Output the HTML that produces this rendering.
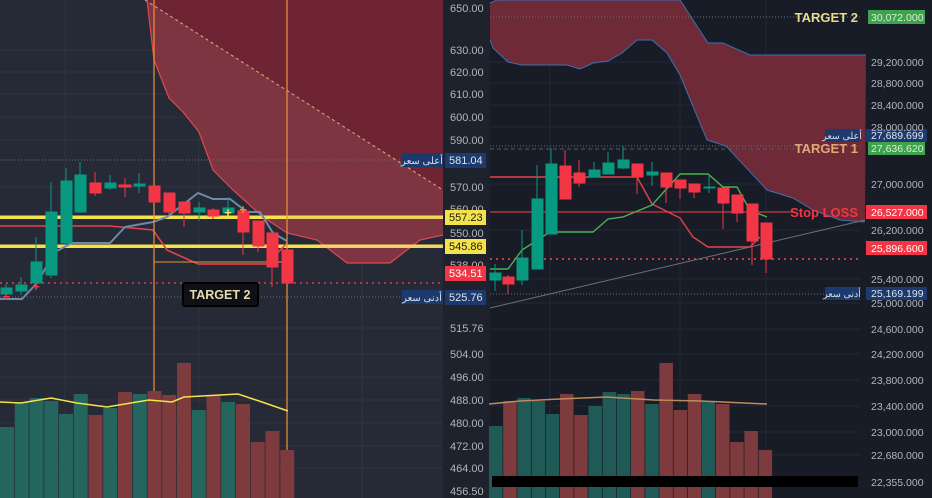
<!DOCTYPE html>
<html><head><meta charset="utf-8"><style>
html,body{margin:0;padding:0;background:#1e222d;}
svg{display:block;}
text{font-family:"Liberation Sans","Noto Sans CJK SC",sans-serif;}
</style></head><body>
<svg width="932" height="498" viewBox="0 0 932 498" xmlns="http://www.w3.org/2000/svg">
<!-- backgrounds -->
<rect x="0" y="0" width="443" height="498" fill="#262a36"/>
<rect x="443" y="0" width="47" height="498" fill="#1e222d"/>
<rect x="490" y="0" width="370" height="498" fill="#181c27"/>
<rect x="860" y="0" width="72" height="498" fill="#181c27"/>
<!-- grid left -->
<g stroke="#30343f" stroke-width="1">
<line x1="0" y1="50" x2="443" y2="50"/><line x1="0" y1="72" x2="443" y2="72"/><line x1="0" y1="94" x2="443" y2="94"/><line x1="0" y1="117" x2="443" y2="117"/><line x1="0" y1="140" x2="443" y2="140"/><line x1="0" y1="187" x2="443" y2="187"/><line x1="0" y1="328" x2="443" y2="328"/><line x1="0" y1="354" x2="443" y2="354"/><line x1="0" y1="377" x2="443" y2="377"/><line x1="0" y1="400" x2="443" y2="400"/><line x1="0" y1="423" x2="443" y2="423"/><line x1="0" y1="446" x2="443" y2="446"/><line x1="0" y1="468" x2="443" y2="468"/>
<line x1="65" y1="0" x2="65" y2="498"/><line x1="199" y1="0" x2="199" y2="498"/><line x1="362" y1="0" x2="362" y2="498"/>
</g>
<g stroke="#232733" stroke-width="1">
<line x1="490" y1="62" x2="860" y2="62"/><line x1="490" y1="83" x2="860" y2="83"/><line x1="490" y1="105" x2="860" y2="105"/><line x1="490" y1="127" x2="860" y2="127"/><line x1="490" y1="184" x2="860" y2="184"/><line x1="490" y1="230" x2="860" y2="230"/><line x1="490" y1="279" x2="860" y2="279"/><line x1="490" y1="303" x2="860" y2="303"/><line x1="490" y1="329" x2="860" y2="329"/><line x1="490" y1="354" x2="860" y2="354"/><line x1="490" y1="380" x2="860" y2="380"/><line x1="490" y1="406" x2="860" y2="406"/><line x1="490" y1="432" x2="860" y2="432"/><line x1="490" y1="455" x2="860" y2="455"/>
<line x1="550" y1="0" x2="550" y2="498"/><line x1="680" y1="0" x2="680" y2="498"/><line x1="766" y1="0" x2="766" y2="498"/>
</g>

<!-- LEFT cloud -->
<polygon points="147,0 443,0 443,235 420,240 390,263 347,263 317,240 287,233 263,217 233,190 220,177 213,170 199,132 183,112 169,98 154,60" fill="#7d3641"/>
<polygon points="145,0 443,0 443,190" fill="#6f2433"/>
<polyline points="147,0 154,60 169,98 183,112 199,132 213,170 220,177 233,190 263,217 287,233 317,240 347,263 390,263 420,240 443,235" fill="none" stroke="#e0474f" stroke-width="1.2"/>
<line x1="145" y1="0" x2="443" y2="190" stroke="#d9b07a" stroke-width="1" stroke-dasharray="3,3"/>

<!-- left horizontal lines -->
<line x1="0" y1="160" x2="443" y2="160" stroke="#6a6e78" stroke-width="1" stroke-dasharray="1,2"/>
<line x1="0" y1="297" x2="443" y2="297" stroke="#6a6e78" stroke-width="1" stroke-dasharray="1,2"/>
<line x1="0" y1="283" x2="443" y2="283" stroke="#e0404a" stroke-width="1.5" stroke-dasharray="2,4"/>
<rect x="0" y="215.5" width="443" height="3.5" fill="#f4e24a"/>
<rect x="0" y="244.5" width="443" height="3.5" fill="#f4e24a"/>
<polygon points="287,217 443,217 443,219 287,219" fill="#f0c08a" opacity="0.6"/>
<polygon points="320,246 443,246 443,248 320,248" fill="#f0c08a" opacity="0.6"/>

<!-- left ichimoku lines -->
<polyline points="0,226 110,226 153,230 167,250 198,264 267,264 287,243" fill="none" stroke="#e5424c" stroke-width="1.6"/>
<polyline points="0,299 22,299 37,283 55,252 72,243 110,243 125,227 153,222 167,217 198,193 213,199 230,199 247,212 260,212 273,233 287,241" fill="none" stroke="#6d8aab" stroke-width="2"/>
<!-- orange vertical lines -->
<line x1="154" y1="0" x2="154" y2="498" stroke="#f0913a" stroke-width="1.2"/>
<line x1="287" y1="0" x2="287" y2="498" stroke="#f0913a" stroke-width="1.2"/>
<line x1="154" y1="262" x2="285" y2="262" stroke="#f0913a" stroke-width="1"/>

<!-- left candles -->
<g stroke-width="1">
<g fill="#089981" stroke="#089981">
<line x1="6" y1="284" x2="6" y2="298"/><rect x="1" y="288" width="11" height="6"/>
<line x1="21" y1="277" x2="21" y2="295"/><rect x="16" y="285" width="11" height="6"/>
<line x1="36" y1="237" x2="36" y2="288"/><rect x="31" y="262" width="11" height="21"/>
<line x1="51" y1="182" x2="51" y2="278"/><rect x="46" y="212" width="11" height="63"/>
<line x1="66" y1="168" x2="66" y2="245"/><rect x="61" y="181" width="11" height="62"/>
<line x1="80" y1="162" x2="80" y2="213"/><rect x="75" y="175" width="11" height="37"/>
<line x1="110" y1="175" x2="110" y2="190"/><rect x="105" y="183" width="11" height="5"/>
<line x1="139" y1="173" x2="139" y2="193"/><rect x="134" y="184" width="11" height="2"/>
<line x1="199" y1="202" x2="199" y2="221"/><rect x="194" y="208" width="11" height="4"/>
<line x1="228" y1="197" x2="228" y2="214"/><rect x="223" y="208" width="11" height="5"/>
</g>
<g fill="#f23645" stroke="#f23645">
<line x1="95" y1="172" x2="95" y2="196"/><rect x="90" y="183" width="11" height="10"/>
<line x1="125" y1="178" x2="125" y2="197"/><rect x="119" y="185" width="12" height="2"/>
<rect x="149" y="186" width="11" height="16"/>
<line x1="169" y1="193" x2="169" y2="214"/><rect x="164" y="193" width="11" height="19"/>
<line x1="184" y1="202" x2="184" y2="227"/><rect x="179" y="202" width="11" height="11"/>
<line x1="213" y1="208" x2="213" y2="219"/><rect x="208" y="210" width="11" height="6"/>
<line x1="243" y1="211" x2="243" y2="255"/><rect x="238" y="211" width="11" height="21"/>
<line x1="258" y1="221" x2="258" y2="252"/><rect x="253" y="221" width="11" height="25"/>
<line x1="272" y1="233" x2="272" y2="287"/><rect x="267" y="233" width="11" height="34"/>
<rect x="282" y="250" width="11" height="33"/>
</g>
<text x="6" y="301" font-size="13" font-weight="bold" fill="#f23645" text-anchor="middle">+</text>
<text x="36" y="291" font-size="13" font-weight="bold" fill="#f23645" text-anchor="middle">+</text>
<text x="228" y="217" font-size="13" font-weight="bold" fill="#f4e24a" text-anchor="middle">+</text>
<text x="243" y="214" font-size="13" font-weight="bold" fill="#f0913a" text-anchor="middle">+</text>
</g>

<!-- TARGET 2 box -->
<rect x="183" y="283" width="75" height="23" fill="#0f1117" stroke="#000" stroke-width="2" rx="2"/>
<text x="220" y="299" font-size="12.5" font-weight="bold" fill="#e6dcb0" text-anchor="middle">TARGET 2</text>

<!-- left volume -->
<g fill="#24655e">
<rect x="0" y="427" width="14" height="71"/><rect x="14.75" y="402" width="14" height="96"/><rect x="29.5" y="398" width="14" height="100"/><rect x="44.25" y="401" width="14" height="97"/><rect x="59" y="414" width="14" height="84"/><rect x="73.75" y="394" width="14" height="104"/>
<rect x="103.25" y="408" width="14" height="90"/><rect x="132.75" y="394" width="14" height="104"/><rect x="191.75" y="410" width="14" height="88"/><rect x="221.25" y="402" width="14" height="96"/>
</g>
<g fill="#7d3b3d">
<rect x="88.5" y="415" width="14" height="83"/><rect x="118" y="392" width="14" height="106"/><rect x="147.5" y="391" width="14" height="107"/><rect x="162.25" y="395" width="14" height="103"/><rect x="177" y="363" width="14" height="135"/><rect x="206.5" y="395" width="14" height="103"/><rect x="236" y="404" width="14" height="94"/><rect x="250.75" y="442" width="14" height="56"/><rect x="265.5" y="431" width="14" height="67"/><rect x="280.25" y="450" width="14" height="48"/>
</g>
<polyline points="0,402 21,403 51,398 77,403 107,407 149,400 172,402 184,397 238,394 262,402 288,411" fill="none" stroke="#f4e24a" stroke-width="1.5"/>

<!-- left axis labels -->
<g font-size="11" fill="#b2b5be">
<text x="450" y="12">650.00</text><text x="450" y="54">630.00</text><text x="450" y="76">620.00</text><text x="450" y="98">610.00</text><text x="450" y="121">600.00</text><text x="450" y="144">590.00</text><text x="450" y="191">570.00</text><text x="450" y="213">560.00</text><text x="450" y="237">550.00</text><text x="450" y="269">538.00</text><text x="450" y="332">515.76</text><text x="450" y="358">504.00</text><text x="450" y="381">496.00</text><text x="450" y="404">488.00</text><text x="450" y="427">480.00</text><text x="450" y="450">472.00</text><text x="450" y="472">464.00</text><text x="450" y="495">456.50</text>
</g>
<rect x="402" y="153" width="41" height="14" fill="#1c3a6e"/><text x="422" y="164" font-size="10" fill="#d8dce6" text-anchor="middle">أعلى سعر</text>
<rect x="445" y="153" width="41" height="15" fill="#1c3a6e"/><text x="449" y="164" font-size="11" fill="#e0e3eb">581.04</text>
<rect x="445" y="210" width="41" height="15" fill="#f4e24a"/><text x="449" y="221" font-size="11" fill="#1a1a1a">557.23</text>
<rect x="445" y="239" width="41" height="15" fill="#f4e24a"/><text x="449" y="250" font-size="11" fill="#1a1a1a">545.86</text>
<rect x="445" y="266" width="41" height="15" fill="#f23645"/><text x="449" y="277" font-size="11" fill="#fff">534.51</text>
<rect x="402" y="290" width="41" height="14" fill="#1c3a6e"/><text x="422" y="301" font-size="10" fill="#d8dce6" text-anchor="middle">أدنى سعر</text>
<rect x="445" y="290" width="41" height="15" fill="#1c3a6e"/><text x="449" y="301" font-size="11" fill="#e0e3eb">525.76</text>

<!-- RIGHT cloud -->
<polygon points="490,3 497,0 680,0 708,43 723,43 750,55 866,55 865,222 840,220 813,210 793,198 767,190 727,147 723,145 707,140 680,75 667,53 652,40 637,40 622,53 608,61 593,63 580,69 567,65 522,65 508,62 493,48 490,40" fill="#6e2a37"/>
<polyline points="490,3 497,0 680,0 708,43 723,43 750,55 866,55" fill="none" stroke="#3d6fb0" stroke-width="1"/>
<polyline points="490,40 493,48 508,62 522,65 567,65 580,69 593,63 608,61 622,53 637,40 652,40 667,53 680,75 707,140 723,145 727,147 767,190 793,198 813,210 840,220 865,222" fill="none" stroke="#3d6fb0" stroke-width="1"/>

<!-- right horizontal lines -->
<line x1="490" y1="17" x2="860" y2="17" stroke="#6a6e78" stroke-dasharray="1,2"/>
<line x1="490" y1="146" x2="860" y2="146" stroke="#6a6e78" stroke-dasharray="1,2"/>
<line x1="490" y1="149" x2="795" y2="149" stroke="#555a64" stroke-dasharray="4,3"/>
<line x1="490" y1="212" x2="795" y2="212" stroke="#c83a45" stroke-width="1.2"/>
<line x1="490" y1="259" x2="860" y2="259" stroke="#e0404a" stroke-width="1.8" stroke-dasharray="2,4"/>
<line x1="490" y1="294" x2="860" y2="294" stroke="#6a6e78" stroke-dasharray="1,2"/>
<line x1="490" y1="308" x2="865" y2="220" stroke="#6d717b" stroke-width="1"/>
<polyline points="490,177 637,177 652,204 680,218 693,237 708,247 750,247 760,237" fill="none" stroke="#e5424c" stroke-width="1.4"/>
<polyline points="490,269 508,269 522,250 550,232 593,232 608,219 623,217 652,205 680,174 708,174 723,187 737,187 747,205 757,213 767,217" fill="none" stroke="#4caf50" stroke-width="1.4"/>

<!-- right candles -->
<g fill="#089981" stroke="#089981">
<line x1="495" y1="264" x2="495" y2="291"/><rect x="490" y="273" width="11" height="7"/>
<line x1="522" y1="230" x2="522" y2="285"/><rect x="517" y="258" width="11" height="22"/>
<line x1="537" y1="165" x2="537" y2="269"/><rect x="532" y="199" width="11" height="70"/>
<line x1="551" y1="148" x2="551" y2="234"/><rect x="546" y="164" width="11" height="70"/>
<line x1="594" y1="162" x2="594" y2="177"/><rect x="589" y="170" width="11" height="7"/>
<line x1="608" y1="152" x2="608" y2="174"/><rect x="603" y="163" width="11" height="11"/>
<line x1="623" y1="146" x2="623" y2="169"/><rect x="618" y="160" width="11" height="8"/>
<line x1="652" y1="162" x2="652" y2="186"/><rect x="647" y="172" width="11" height="3"/>
<line x1="709" y1="175" x2="709" y2="193"/><rect x="704" y="187" width="11" height="1"/>
</g>
<g fill="#f23645" stroke="#f23645">
<line x1="508" y1="275" x2="508" y2="294"/><rect x="503" y="277" width="11" height="7"/>
<line x1="565" y1="150" x2="565" y2="199"/><rect x="560" y="166" width="11" height="33"/>
<line x1="579" y1="160" x2="579" y2="187"/><rect x="574" y="173" width="11" height="10"/>
<line x1="637" y1="164" x2="637" y2="194"/><rect x="632" y="164" width="11" height="13"/>
<line x1="666" y1="173" x2="666" y2="203"/><rect x="661" y="173" width="11" height="14"/>
<line x1="680" y1="180" x2="680" y2="199"/><rect x="675" y="180" width="11" height="8"/>
<line x1="694" y1="184" x2="694" y2="198"/><rect x="689" y="184" width="11" height="8"/>
<line x1="723" y1="188" x2="723" y2="229"/><rect x="718" y="188" width="11" height="15"/>
<line x1="737" y1="195" x2="737" y2="222"/><rect x="732" y="195" width="11" height="18"/>
<line x1="752" y1="204" x2="752" y2="265"/><rect x="747" y="204" width="11" height="37"/>
<line x1="766" y1="223" x2="766" y2="273"/><rect x="761" y="223" width="11" height="36"/>
</g>

<!-- right volume -->
<g fill="#1f5a57">
<rect x="489" y="426" width="13.5" height="72"/><rect x="517.4" y="398" width="13.5" height="100"/><rect x="531.6" y="401" width="13.5" height="97"/><rect x="545.8" y="414" width="13.5" height="84"/><rect x="588.4" y="406" width="13.5" height="92"/><rect x="602.6" y="392" width="13.5" height="106"/><rect x="616.8" y="394" width="13.5" height="104"/><rect x="645.2" y="404" width="13.5" height="94"/><rect x="701.8" y="402" width="13.5" height="96"/>
</g>
<g fill="#7d3b3d">
<rect x="503.2" y="401" width="13.5" height="97"/><rect x="560" y="394" width="13.5" height="104"/><rect x="574.2" y="415" width="13.5" height="83"/><rect x="631" y="391" width="13.5" height="107"/><rect x="659.4" y="363" width="13.5" height="135"/><rect x="673.6" y="410" width="13.5" height="88"/><rect x="687.8" y="394" width="13.5" height="104"/><rect x="716" y="404" width="13.5" height="94"/><rect x="730.2" y="442" width="13.5" height="56"/><rect x="744.4" y="431" width="13.5" height="67"/><rect x="758.6" y="450" width="13.5" height="48"/>
</g>
<polyline points="489,404 520,401 560,399 606,397 654,400 701,401 767,404" fill="none" stroke="#c08a5a" stroke-width="1.5"/>
<rect x="492" y="476" width="366" height="11" fill="#000"/>

<!-- right labels -->
<text x="858" y="22" font-size="13" font-weight="bold" fill="#e8dc8a" text-anchor="end">TARGET 2</text>
<rect x="868" y="10" width="57" height="14" fill="#3fa34d"/><text x="871" y="21" font-size="10.5" fill="#d7f0d7">30,072.000</text>
<text x="858" y="153" font-size="13" font-weight="bold" fill="#e3a878" text-anchor="end">TARGET 1</text>
<rect x="868" y="141" width="57" height="14" fill="#3fa34d"/><text x="871" y="152" font-size="10.5" fill="#d7f0d7">27,636.620</text>
<rect x="825" y="129" width="35" height="13" fill="#1c3a6e"/><text x="842" y="139" font-size="9.5" fill="#d8dce6" text-anchor="middle">أعلى سعر</text>
<rect x="866" y="129" width="61" height="13" fill="#1c3a6e"/><text x="871" y="139" font-size="10.5" fill="#e0e3eb">27,689.699</text>
<text x="858" y="217" font-size="13" font-weight="bold" fill="#f23645" text-anchor="end">Stop LOSS</text>
<rect x="866" y="205" width="61" height="14" fill="#f23645"/><text x="871" y="216" font-size="10.5" fill="#fff">26,527.000</text>
<rect x="866" y="241" width="61" height="14" fill="#f23645"/><text x="871" y="252" font-size="10.5" fill="#fff">25,896.600</text>
<rect x="825" y="287" width="35" height="13" fill="#1c3a6e"/><text x="842" y="297" font-size="9.5" fill="#d8dce6" text-anchor="middle">أدنى سعر</text>
<rect x="866" y="287" width="61" height="13" fill="#1c3a6e"/><text x="871" y="297" font-size="10.5" fill="#e0e3eb">25,169.199</text>
<g font-size="10.5" fill="#b2b5be">
<text x="871" y="66">29,200.000</text><text x="871" y="87">28,800.000</text><text x="871" y="109">28,400.000</text><text x="871" y="131">28,000.000</text><text x="871" y="188">27,000.000</text><text x="871" y="234">26,200.000</text><text x="871" y="283">25,400.000</text><text x="871" y="307">25,000.000</text><text x="871" y="333">24,600.000</text><text x="871" y="358">24,200.000</text><text x="871" y="384">23,800.000</text><text x="871" y="410">23,400.000</text><text x="871" y="436">23,000.000</text><text x="871" y="459">22,680.000</text><text x="871" y="486">22,355.000</text>
</g>
</svg>
</body></html>
